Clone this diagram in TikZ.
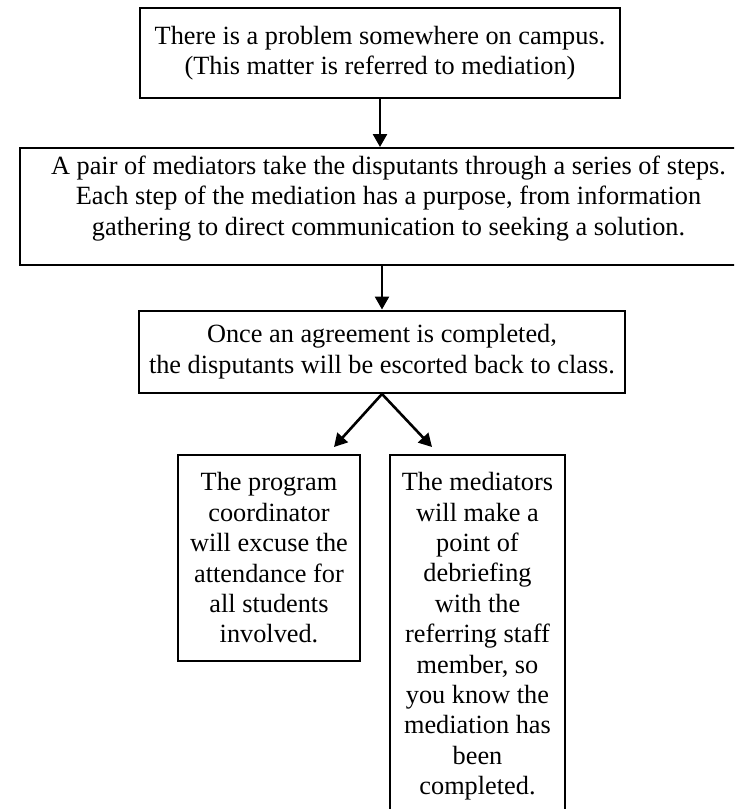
\documentclass[tikz,border=0pt]{standalone}
\usepackage{fontspec}
\setmainfont{Liberation Serif}
\usepackage{tikz}
\usetikzlibrary{arrows.meta, positioning, calc}

\begin{document}
\begin{tikzpicture}[
    every node/.style={font=\fontsize{13.15}{15.2}\selectfont},
    box/.style={
        rectangle,
        draw=black,
        line width=1pt,
        inner sep=1pt,
        align=center
    },
    myarrow/.style={
        -{Triangle[length=6.5pt, width=7pt]},
        line width=1.3pt,
        draw=black
    }
]

% Page frame
\useasboundingbox (-190pt,26.5pt) rectangle (177pt,-378pt);
\clip (-190pt,26.5pt) rectangle (177pt,-378pt);

% Main column
\node[box, minimum width=240pt, minimum height=45pt] (problem)
    {There is a problem somewhere on campus.\\(This matter is referred to mediation)};
\node[box, below=24pt of problem, xshift=4.25pt, minimum width=368.5pt, minimum height=58.5pt, text depth=11pt] (steps)
    {A pair of mediators take the disputants through a series of steps.\\
     Each step of the mediation has a purpose, from information\\
     gathering to direct communication to seeking a solution.};
\node[box, below=21.75pt of steps, xshift=-3.25pt, minimum width=243pt, minimum height=41.25pt] (agree)
    {Once an agreement is completed,\\the disputants will be escorted back to class.};

% Two outcomes
\node[box, below=30pt of agree, xshift=-56.5pt, minimum width=91pt, minimum height=103pt] (excuse)
    {The program\\coordinator\\will excuse the\\attendance for\\all students\\involved.};
\node[box, below=30pt of agree, xshift=47.75pt, minimum width=87.5pt, minimum height=183pt, text depth=4.5pt] (debrief)
    {The mediators\\will make a\\point of\\debriefing\\with the\\referring staff\\member, so\\you know the\\mediation has\\been\\completed.};

% Arrow tips
\coordinate (tipL) at ($(excuse.north east)+(-13.5pt,3.5pt)$);
\coordinate (tipR) at ($(debrief.north west)+(21.5pt,3.5pt)$);

% Arrows
\draw[myarrow] (problem.south) -- (problem.south |- steps.north);
\draw[myarrow] (agree.north |- steps.south) -- (agree.north);
\draw[myarrow] (agree.south) -- (tipL);
\draw[myarrow] (agree.south) -- (tipR);

\end{tikzpicture}
\end{document}
